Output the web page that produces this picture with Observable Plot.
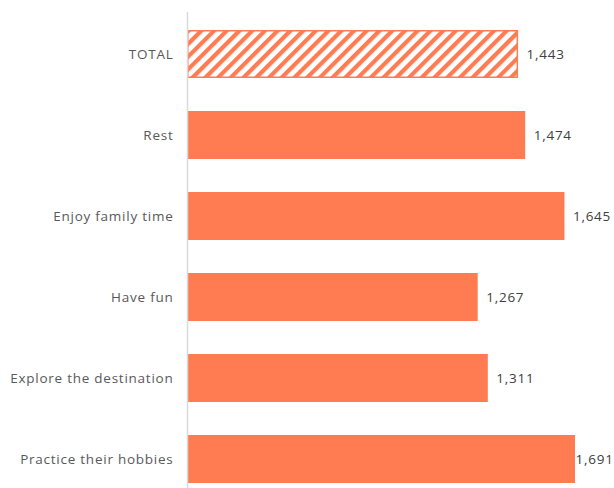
<!DOCTYPE html>
<html>
<head>
<meta charset="utf-8">
<script src="https://cdn.jsdelivr.net/npm/d3@7"></script>
<script src="https://cdn.jsdelivr.net/npm/@observablehq/plot@0.6"></script>
<style>
  html, body { margin: 0; padding: 0; background: #ffffff; overflow: hidden; }
  #chart svg { display: block; }
  #chart svg text { letter-spacing: 0.75px; }
</style>
</head>
<body>
<div id="chart"></div>
<script>
// Average spend per trip, by main travel motivation
const categories = ["TOTAL", "Rest", "Enjoy family time", "Have fun", "Explore the destination", "Practice their hobbies"];
const values = [1443, 1474, 1645, 1267, 1311, 1691];
const totalCategory = "TOTAL";

const W = 614, H = 488;
const barColor = "#ff7b51";
const textColor = "#595959";
const fontFamily = "'Open Sans', Lato, sans-serif";
const fontSize = 13.5;

const rows = categories.map((category, i) => ({category, value: values[i]}));
const fmt = d3.format(",");

// Labels that would spill past the right edge are set flush with the bar end
const xMax = 1800;
const tight = d => d.value > 1660;

const chart = Plot.plot({
  width: W,
  height: H,
  marginLeft: 187,
  marginRight: 14,
  marginTop: 12,
  marginBottom: 0,
  style: {fontFamily, fontSize: `${fontSize}px`, color: textColor, background: "#ffffff"},
  x: {domain: [0, xMax], axis: null},
  y: {
    domain: categories,
    range: [11.2, 500.8],
    paddingInner: 0.41,
    paddingOuter: 0.205,
    label: null
  },
  marks: [
    Plot.barX(rows.filter(d => d.category !== totalCategory), {
      x: "value", y: "category", fill: barColor
    }),
    Plot.barX(rows.filter(d => d.category === totalCategory), {
      x: "value", y: "category", fill: "url(#hatch)",
      stroke: barColor, strokeWidth: 1.5, inset: 0.75
    }),
    Plot.ruleX([0], {stroke: "#d9d9d9", strokeWidth: 1.5}),
    Plot.axisY({tickSize: 0, tickPadding: 14, fontSize, fill: textColor, label: null}),
    Plot.text(rows.filter(d => !tight(d)), {
      x: "value", y: "category", text: d => fmt(d.value),
      textAnchor: "start", dx: 8, fontSize, fill: "#404040"
    }),
    Plot.text(rows.filter(tight), {
      x: "value", y: "category", text: d => fmt(d.value),
      textAnchor: "start", dx: 0, fontSize, fill: "#404040"
    })
  ]
});

// Diagonal hatch used by the TOTAL bar
const defs = d3.select(chart).insert("defs", ":first-child");
const pat = defs.append("pattern")
  .attr("id", "hatch")
  .attr("patternUnits", "userSpaceOnUse")
  .attr("width", 9)
  .attr("height", 9)
  .attr("patternTransform", "rotate(45)");
pat.append("rect").attr("width", 9).attr("height", 9).attr("fill", "#ffffff");
pat.append("rect").attr("width", 4.2).attr("height", 9).attr("fill", barColor);

document.getElementById("chart").appendChild(chart);
</script>
</body>
</html>
